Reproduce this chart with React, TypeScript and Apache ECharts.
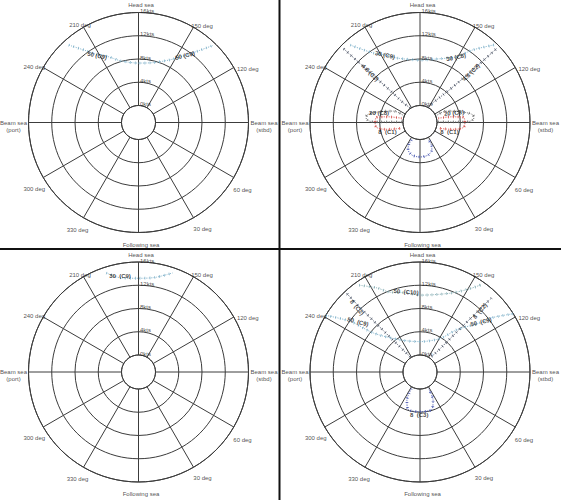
import React, { useEffect, useRef } from 'react';
import * as echarts from 'echarts';

// ---- axis ticks / labels ----
const speedTicks = [0, 4, 8, 12, 16];
const headingDegs = [180, 150, 120, 90, 60, 30, 0, 330, 300, 270, 240, 210];
const headingTexts = ['Head sea', '150 deg', '120 deg', 'Beam sea\n(stbd)', '60 deg', '30 deg', 'Following sea', '330 deg', '300 deg', 'Beam sea\n(port)', '240 deg', '210 deg'];

// ---- curves, points are [heading deg, speed kts] ----
// top-left panel
const tlC9 = [[222, 15.0], [216, 12.3], [212, 10.9], [205, 9.6], [196, 8.1], [180, 7.3], [166, 7.7], [153, 9.2], [145, 11.2], [140, 13.2], [136, 15.5]];
// top-right panel
const trC9 = [[222, 15.0], [214, 11.5], [207, 10.1], [200, 8.9], [190, 8.1], [180, 7.8], [168, 8.2], [160, 8.8], [151, 10.0], [144, 12.5], [136, 15.7]];
const trC2Left = [[214, 0.1], [220, 1.3], [223, 4.6], [225, 9.3], [226, 15.4]];
const trC2Right = [[154, 0.1], [146, 1.3], [138, 4.6], [135, 9.3], [134, 15.4]];
const trC8Right = [[92, 0.2], [91, 3.1], [91, 5.3], [95, 6.4], [99, 6.1], [105, 4.2], [113, 2.1], [113, 0.2]];
const trC8Left = [[268, 0.2], [269, 3.1], [269, 5.3], [265, 6.4], [261, 6.1], [255, 4.2], [247, 2.1], [247, 0.2]];
const trC1Right = [[103, 0.3], [100, 2.7], [97, 4.5], [90, 4.8], [83, 4.5], [78, 2.7], [73, 0.5]];
const trC1Left = [[257, 0.3], [260, 2.7], [263, 4.5], [270, 4.8], [277, 4.5], [282, 2.7], [287, 0.5]];
const trC3 = [[-26, 0.4], [-27, 1.3], [-24, 2.1], [-16, 2.75], [-8, 2.95], [0, 3.0], [8, 2.95], [16, 2.75], [24, 2.1], [27, 1.3], [26, 0.4]];
// bottom-left panel
const blC9 = [[198, 15.0], [191, 13.6], [180, 13.2], [170, 13.6], [161, 15.1]];
// bottom-right panel
const brC10 = [[215, 15.3], [207, 13.3], [201, 11.8], [190, 10.9], [180, 10.3], [159, 11.6], [149, 13.8], [145, 15.4]];
const brC2Left = [[213, 0.2], [222, 7.9], [223, 12.6], [223, 15.6]];
const brC2Right = [[143, 0.4], [140, 1.6], [137, 8.1], [136, 14.8]];
const brC9 = [[239, 16.0], [234, 11.9], [230, 7.5], [212, 3.6], [180, 2.3], [149, 3.8], [139, 6.7], [129, 10.6], [127.5, 12.3], [122, 16.0]];
const brC3 = [[-27, 0.3], [-25, 2.4], [-18, 3.8], [0, 3.9], [18, 3.8], [25, 2.4], [27, 0.3]];

// curve labels: [panel, heading deg, kts, text, rotation]
const curveLabels: [number, number, number, string, number][] = [
  [0, 211.8, 10.6, '50 (C9)', -12],
  [0, 145.2, 11.1, '50 (C9)', 14],
  [1, 207.4, 10.15, '30 (C9)', -12],
  [1, 151, 9.9, '30 (C8)', 12],
  [1, 225, 9.2, '4.8 (C2)', -45],
  [1, 134.4, 9.4, '4.8 (C2)', 45],
  [1, 257, 4.3, '20 (C8)', 0],
  [1, 105.6, 3.15, '20 (C8)', 5],
  [1, 286.3, 2.9, '8  (C1)', 0],
  [1, 72.2, 2.4, '8  (C1)', 0],
  [2, 190.9, 13.9, '30  (C9)', 0],
  [3, 189.9, 11.05, '50  (C10)', -4],
  [3, 224.3, 12.6, '8  (C2)', -50],
  [3, 135.5, 11.8, '8  (C2)', 50],
  [3, 231.1, 10.8, '50  (C9)', -14],
  [3, 129.3, 10.65, '50  (C9)', 14],
  [3, -1, 4.5, '8  (C3)', 0],
];

// ---- styling ----
const centers = [[138.5, 122.5], [420, 122.5], [138.5, 372], [420, 372]];
const headingOffsets = [[2.5, -7.5], [8.5, -1.5], [14, 1], [15.5, 3.5], [8.7, 12.5], [9, 11], [2.5, 12], [-6, 12], [-9, 11], [-15, 3.5], [-9, -1], [-3.5, -2]];
const FONT = '"Liberation Sans", Arial, sans-serif';
const GRID = '#3c3c3c';
const LIGHT = '#7fb1c9';
const C10 = '#86aeb4';
const DARK = '#4d5566';
const RED = '#d4524e';
const BLUE = '#4858b0';
const GRAY = '#6e6e6e';

const curves: [number, number[][], string, number][] = [
  [0, tlC9, LIGHT, 0.3],
  [1, trC9, LIGHT, 0.3],
  [1, trC2Left, DARK, 0],
  [1, trC2Right, DARK, 0],
  [1, trC8Right, GRAY, 0.4],
  [1, trC8Left, GRAY, 0.4],
  [1, trC1Right, RED, 0.4],
  [1, trC1Left, RED, 0.4],
  [1, trC3, BLUE, 0.4],
  [2, blC9, LIGHT, 0.3],
  [3, brC10, C10, 0.3],
  [3, brC2Left, DARK, 0],
  [3, brC2Right, DARK, 0],
  [3, brC9, LIGHT, 0.3],
  [3, brC3, BLUE, 0.3],
];

const toAngle = (deg: number) => 180 - deg;
const plainText = { textBorderWidth: 0, textBorderColor: 'transparent', textShadowBlur: 0 };

function buildOption() {
  const polar = centers.map((c) => ({ center: c, radius: [17, 110] }));
  const angleAxis = centers.map((_, i) => ({
    polarIndex: i,
    type: 'value',
    min: 0,
    max: 360,
    interval: 30,
    startAngle: 90,
    clockwise: true,
    axisLine: { show: true, lineStyle: { color: GRID, width: 1 } },
    axisTick: { show: false },
    axisLabel: { show: false },
    splitLine: { show: true, lineStyle: { color: GRID, width: 1 } },
  }));
  const radiusAxis = centers.map((_, i) => ({
    polarIndex: i,
    type: 'value',
    min: 0,
    max: 16,
    interval: 4,
    axisLine: { show: false },
    axisTick: { show: false },
    axisLabel: { show: false },
    splitLine: { show: true, lineStyle: { color: GRID, width: 1 } },
  }));

  const series: any[] = [];
  curves.forEach(([p, pts, color, smooth]) => {
    const data = pts.map(([d, v]) => [v, toAngle(d)]);
    series.push({
      type: 'line', coordinateSystem: 'polar', polarIndex: p, data, symbol: 'none', smooth,
      lineStyle: { color, width: 0.9, type: [1.2, 1.2] }, silent: true, z: 3,
    });
    series.push({
      type: 'line', coordinateSystem: 'polar', polarIndex: p, data, symbol: 'none', smooth,
      lineStyle: { color, width: 2.8, type: [0.7, 4.2] }, silent: true, z: 3,
    });
  });

  centers.forEach((_, p) => {
    // heading labels
    series.push({
      type: 'scatter', coordinateSystem: 'polar', polarIndex: p, symbolSize: 1,
      itemStyle: { color: 'rgba(0,0,0,0)' }, silent: true, z: 6,
      data: headingDegs.map((d, i) => ({
        value: [16, (toAngle(d) + 360) % 360],
        label: {
          show: true, position: 'inside', formatter: headingTexts[i], offset: headingOffsets[i],
          fontSize: 6, fontFamily: FONT, color: '#222', lineHeight: 7, ...plainText,
        },
      })),
    });
    // speed labels
    series.push({
      type: 'scatter', coordinateSystem: 'polar', polarIndex: p, symbolSize: 1,
      itemStyle: { color: 'rgba(0,0,0,0)' }, silent: true, z: 6,
      data: speedTicks.map((s) => ({
        value: [s, 0],
        label: {
          show: true, position: 'right', distance: 1, offset: [0, -1.5], formatter: `${s}kts`,
          fontSize: 6, fontFamily: FONT, color: '#222', ...plainText,
        },
      })),
    });
    // curve labels
    series.push({
      type: 'scatter', coordinateSystem: 'polar', polarIndex: p, symbolSize: 1,
      itemStyle: { color: 'rgba(0,0,0,0)' }, silent: true, z: 7,
      data: curveLabels.filter((l) => l[0] === p).map(([, d, v, t, rot]) => ({
        value: [v, toAngle(d)],
        label: {
          show: true, position: 'inside', formatter: t, rotate: rot,
          fontSize: 6, fontWeight: 'bold', fontFamily: FONT, color: '#111', ...plainText,
        },
      })),
    });
  });

  return {
    animation: false,
    backgroundColor: '#fff',
    polar,
    angleAxis,
    radiusAxis,
    series,
    graphic: [
      { type: 'rect', shape: { x: 278.5, y: 0, width: 2, height: 500 }, style: { fill: '#111' }, z: 10 },
      { type: 'rect', shape: { x: 0, y: 248, width: 561, height: 2 }, style: { fill: '#111' }, z: 10 },
    ],
  };
}

export default function App() {
  const ref = useRef<HTMLDivElement>(null);
  useEffect(() => {
    if (!ref.current) return;
    const chart = echarts.init(ref.current, null, { renderer: 'svg' });
    chart.setOption(buildOption() as any);
    return () => chart.dispose();
  }, []);
  return <div ref={ref} style={{ position: 'absolute', left: 0, top: 0, width: 561, height: 500 }} />;
}
